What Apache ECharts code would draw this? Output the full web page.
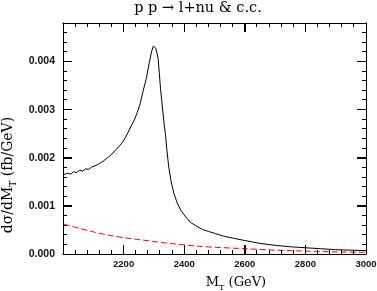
<!DOCTYPE html>
<html>
<head>
<meta charset="utf-8">
<script src="https://cdn.jsdelivr.net/npm/echarts@6/dist/echarts.min.js"></script>
<style>
html,body{margin:0;padding:0;background:#fff;}
#chart{width:377px;height:291px;}
</style>
</head>
<body>
<div id="chart"></div>
<script>
// ---- data ----
const titleText = 'p p \u2192 l+nu & c.c.';
const xAxisRange = [2000, 3000];   // GeV
const xTickStep = 200;
const yAxisRange = [0, 0.0048];    // fb/GeV
const yTickStep = 0.001;
const xMajorTicks = [2000, 2200, 2400, 2600, 2800, 3000];
const xMinorTicks = [2040, 2080, 2120, 2160, 2240, 2280, 2320, 2360, 2440, 2480, 2520, 2560,
                     2640, 2680, 2720, 2760, 2840, 2880, 2920, 2960];
const yMajorTicks = [0, 0.001, 0.002, 0.003, 0.004];
const yMinorTicks = [0.0002, 0.0004, 0.0006, 0.0008, 0.0012, 0.0014, 0.0016, 0.0018,
                     0.0022, 0.0024, 0.0026, 0.0028, 0.0032, 0.0034, 0.0036, 0.0038,
                     0.0042, 0.0044, 0.0046];

// black solid: total distribution (M_T in GeV, dσ/dM_T in fb/GeV)
const mtTotal = [2003, 2015, 2025, 2035, 2045, 2055, 2065, 2075, 2085, 2095, 2105, 2115, 2125, 2135,
                 2145, 2155, 2165, 2175, 2185, 2195, 2205, 2215, 2225, 2235, 2245, 2255, 2265, 2275,
                 2285, 2292, 2298, 2302, 2306, 2310, 2314, 2318, 2322, 2326, 2330, 2334, 2338, 2343,
                 2349, 2357, 2366, 2377, 2390, 2405, 2420, 2440, 2460, 2480, 2500, 2530, 2560, 2600,
                 2650, 2700, 2750, 2800, 2850, 2900, 2950, 3000];
const dsTotal = [0.00165, 0.00168, 0.00166, 0.00171, 0.00169, 0.00174, 0.00172, 0.00177, 0.00176,
                 0.00181, 0.00183, 0.00186, 0.00190, 0.00194, 0.00199, 0.00204, 0.00210, 0.00217,
                 0.00224, 0.00231, 0.00241, 0.00253, 0.00266, 0.00278, 0.00294, 0.00313, 0.00340,
                 0.00365, 0.00398, 0.00420, 0.00432, 0.00436, 0.00428, 0.00418, 0.00406, 0.00375,
                 0.00342, 0.00318, 0.00293, 0.00268, 0.00250, 0.00215, 0.00181, 0.00150, 0.00126,
                 0.00106, 0.00090, 0.00077, 0.00066, 0.00058, 0.00051, 0.00047, 0.00043, 0.00037,
                 0.00033, 0.00028, 0.00022, 0.00018, 0.00015, 0.00013, 0.00011, 0.00009, 0.00008,
                 0.00007];

// red dashed: background distribution
const mtBkg = [2003, 2050, 2100, 2150, 2200, 2250, 2300, 2350, 2400, 2450, 2500, 2600, 2700, 2800, 2900, 3000];
const dsBkg = [0.00062, 0.00054, 0.00046, 0.00039, 0.00034, 0.00030, 0.00026, 0.00022, 0.00019,
               0.00016, 0.00014, 0.00011, 0.00008, 0.00006, 0.000045, 0.000035];

const totalData = mtTotal.map((x, i) => [x, dsTotal[i]]);
const bkgData = mtBkg.map((x, i) => [x, dsBkg[i]]);

const serif = 'DejaVu Serif';
const lineSt = {color: '#000', width: 1};
const MAJOR_LEN = 9, MINOR_LEN = 4;
const crisp = v => Math.round(v - 0.5) + 0.5;

function xAx(pos, withLabels, extra) {
  return Object.assign({
    type: 'value', gridIndex: 0, position: pos,
    min: xAxisRange[0], max: xAxisRange[1], interval: xTickStep,
    axisLine: {show: true, onZero: false, lineStyle: lineSt},
    axisTick: {show: true, inside: true, length: MAJOR_LEN, lineStyle: lineSt},
    axisLabel: withLabels ? {show: true, margin: 5, showMinLabel: false,
      fontFamily: 'Liberation Sans', fontWeight: 'bold', fontSize: 9.5, color: '#111',
      formatter: v => String(Math.round(v))} : {show: false},
    splitLine: {show: false}
  }, extra || {});
}
function yAx(pos, withLabels) {
  return {
    type: 'value', gridIndex: 0, position: pos,
    min: yAxisRange[0], max: yAxisRange[1], interval: yTickStep,
    axisLine: {show: true, onZero: false, lineStyle: lineSt},
    axisTick: {show: true, inside: true, length: MAJOR_LEN, lineStyle: lineSt},
    axisLabel: withLabels ? {show: true, margin: 8, showMaxLabel: false,
      fontFamily: 'Liberation Sans', fontWeight: 'bold', fontSize: 10.5, color: '#111',
      formatter: v => (Math.abs(v * 1000 - Math.round(v * 1000)) < 1e-6 ? Number(v).toFixed(3) : '')}
      : {show: false},
    splitLine: {show: false}
  };
}

const subRich = {
  n: {fontFamily: serif, fontSize: 13, color: '#000', padding: [0, 0, 3, 0], verticalAlign: 'top'},
  s: {fontFamily: serif, fontSize: 8, color: '#000', verticalAlign: 'bottom'}
};

const yLabelGraphic = {
  id: 'ylabel', type: 'text', x: 10, y: 175, rotation: Math.PI / 2,
  style: {
    text: '{n|d\u03c3/dM}{s|T}{n| (fb/GeV)}', align: 'center', verticalAlign: 'middle',
    rich: {
      n: {fontFamily: serif, fontSize: 14, fill: '#000', padding: [0, 0, 3, 0], verticalAlign: 'top'},
      s: {fontFamily: serif, fontSize: 9, fill: '#000', verticalAlign: 'bottom'}
    }
  }
};

const chart = echarts.init(document.getElementById('chart'), null, {renderer: 'canvas'});
chart.setOption({
  animation: false,
  backgroundColor: '#fff',
  title: {
    text: titleText, left: 198, textAlign: 'center', top: 0, padding: [1, 0, 0, 0],
    textStyle: {fontFamily: serif, fontWeight: 'normal', fontSize: 14.5, color: '#000'}
  },
  grid: {left: 63, right: 11, top: 23, bottom: 37, containLabel: false, outerBoundsMode: 'none'},
  xAxis: [
    xAx('bottom', true, {
      name: '{n|M}{s|T}{n| (GeV)}', nameLocation: 'middle', nameGap: 22,
      nameTextStyle: {padding: [0, 0, 0, 43], rich: subRich}
    }),
    xAx('top', false)
  ],
  yAxis: [
    yAx('left', true),
    yAx('right', false)
  ],
  graphic: [yLabelGraphic],
  series: [
    {
      name: 'total', type: 'line', xAxisIndex: 0, yAxisIndex: 0, data: totalData,
      showSymbol: false, symbol: 'none', clip: true,
      lineStyle: {color: '#000', width: 1}
    },
    {
      name: 'background', type: 'line', xAxisIndex: 0, yAxisIndex: 0, data: bkgData,
      showSymbol: false, symbol: 'none', clip: true, smooth: 0.3,
      lineStyle: {color: '#ff0000', width: 1, type: [6, 3]}
    }
  ]
});

// inward tick marks on all four sides, positioned through the chart's own axis scales
const toPx = (x, y) => chart.convertToPixel({xAxisIndex: 0, yAxisIndex: 0}, [x, y]);
const tickEls = [];
function addLine(x1, y1, x2, y2) {
  tickEls.push({type: 'line', silent: true, z: 10,
    shape: {x1: x1, y1: y1, x2: x2, y2: y2}, style: {stroke: '#000', lineWidth: 1}});
}
[[xMajorTicks, MAJOR_LEN], [xMinorTicks, MINOR_LEN]].forEach(([vals, len]) => {
  vals.forEach(v => {
    const pb = toPx(v, yAxisRange[0]), pt = toPx(v, yAxisRange[1]);
    const x = crisp(pb[0]);
    addLine(x, pb[1], x, pb[1] - len);
    addLine(x, pt[1], x, pt[1] + len);
  });
});
[[yMajorTicks, MAJOR_LEN], [yMinorTicks, MINOR_LEN]].forEach(([vals, len]) => {
  vals.forEach(v => {
    const pl = toPx(xAxisRange[0], v), pr = toPx(xAxisRange[1], v);
    const y = crisp(pl[1]);
    addLine(pl[0], y, pl[0] + len, y);
    addLine(pr[0], y, pr[0] - len, y);
  });
});
chart.setOption({graphic: [yLabelGraphic].concat(tickEls)});
</script>
</body>
</html>
